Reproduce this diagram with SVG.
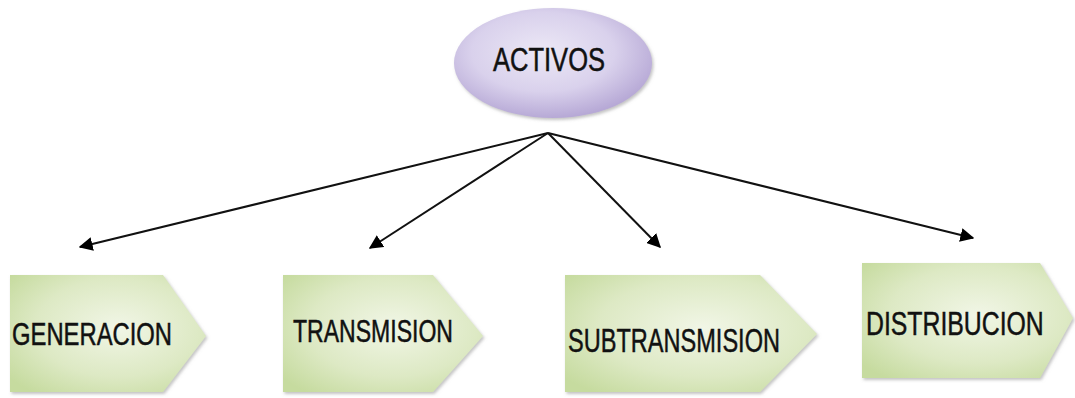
<svg xmlns="http://www.w3.org/2000/svg" width="1075" height="398" viewBox="0 0 1075 398">
<defs>
<radialGradient id="gEll" cx="0.45" cy="0.4" r="0.6">
<stop offset="0" stop-color="#ece8f6"/>
<stop offset="0.6" stop-color="#d9d1ec"/>
<stop offset="1" stop-color="#b7a9d6"/>
</radialGradient>
<radialGradient id="gBox" cx="0.55" cy="0.45" r="0.7">
<stop offset="0" stop-color="#f1f6e6"/>
<stop offset="0.6" stop-color="#dde9c4"/>
<stop offset="1" stop-color="#c6db9f"/>
</radialGradient>
<marker id="ah" viewBox="0 0 10 10" refX="9" refY="5" markerWidth="14" markerHeight="14" markerUnits="userSpaceOnUse" orient="auto">
<path d="M0,0 L10,5 L0,10 z" fill="#000"/>
</marker>
<filter id="sh" x="-10%" y="-10%" width="130%" height="130%">
<feDropShadow dx="1.5" dy="2" stdDeviation="1.5" flood-color="#888" flood-opacity="0.5"/>
</filter>
</defs>
<style>
.lbl{font-family:"Liberation Sans",Arial,sans-serif;fill:#111;stroke:#111;stroke-width:0.5;}
.box{fill:url(#gBox);filter:url(#sh);}
.edge{stroke:#111;stroke-width:2;fill:none;marker-end:url(#ah);}
</style>
<g id="activos">
<ellipse cx="553" cy="63" rx="99" ry="55" fill="url(#gEll)" filter="url(#sh)"/>
<text class="lbl" x="549" y="71" font-size="33" text-anchor="middle" textLength="112" lengthAdjust="spacingAndGlyphs">ACTIVOS</text>
</g>
<g id="connectors">
<line class="edge" x1="548" y1="133" x2="80" y2="247"/>
<line class="edge" x1="548" y1="133" x2="370" y2="248"/>
<line class="edge" x1="548" y1="133" x2="660" y2="247"/>
<line class="edge" x1="548" y1="133" x2="973" y2="238"/>
</g>
<g id="generacion">
<path class="box" d="M10,275 L163,275 L206,336 L163,392 L10,392 Z"/>
<text class="lbl" x="12" y="345" font-size="31" textLength="160" lengthAdjust="spacingAndGlyphs">GENERACION</text>
</g>
<g id="transmision">
<path class="box" d="M283,275 L433,275 L483,336 L433,392 L283,392 Z"/>
<text class="lbl" x="293" y="342" font-size="31" textLength="160" lengthAdjust="spacingAndGlyphs">TRANSMISION</text>
</g>
<g id="subtransmision">
<path class="box" d="M565,275 L760,275 L817,334 L760,392 L565,392 Z"/>
<text class="lbl" x="568" y="352" font-size="34" textLength="212" lengthAdjust="spacingAndGlyphs">SUBTRANSMISION</text>
</g>
<g id="distribucion">
<path class="box" d="M862,263 L1040,263 L1073,318 L1040,378 L862,378 Z"/>
<text class="lbl" transform="translate(866,335) scale(0.73,1)" x="0" y="0" font-size="34">DISTRIBUCION</text>
</g>
</svg>
